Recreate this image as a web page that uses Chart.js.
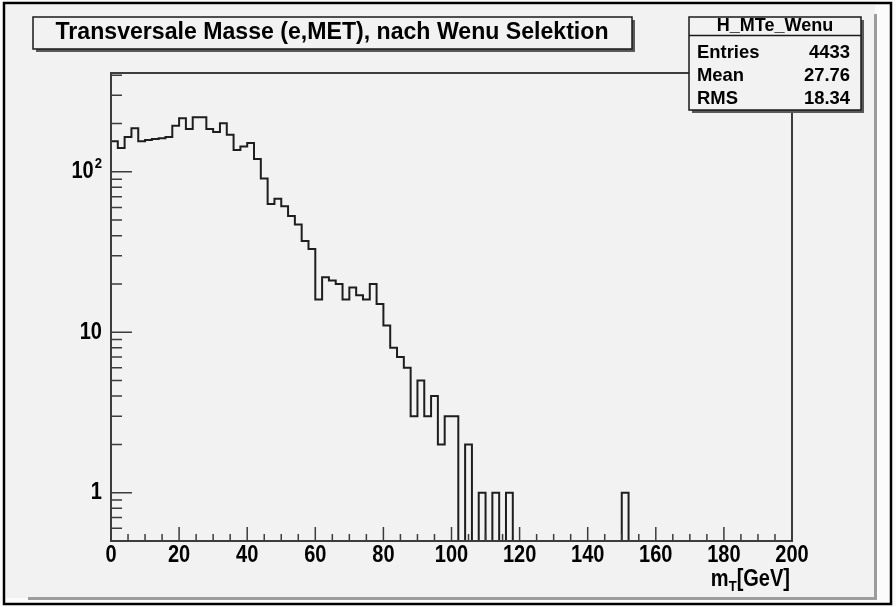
<!DOCTYPE html>
<html>
<head>
<meta charset="utf-8">
<script src="https://cdn.jsdelivr.net/npm/chart.js@4/dist/chart.umd.min.js"></script>
<style>
  html, body { margin: 0; padding: 0; background: #ffffff; }
  #wrap { width: 896px; height: 607px; position: relative; }
  canvas { display: block; }
</style>
</head>
<body>
<div id="wrap"><canvas id="c" width="896" height="607"></canvas></div>
<script>
// Histogram H_MTe_Wenu: transverse mass of electron + missing E_T
const histTitle = 'Transversale Masse (e,MET), nach Wenu Selektion';
const histName = 'H_MTe_Wenu';
const statLabels = ['Entries', 'Mean', 'RMS'];
const statValues = ['4433', '27.76', '18.34'];

const xMin = 0;
const xMax = 200;
const binWidth = 2;

// Bin contents, 100 bins of 2 GeV from 0 to 200
const counts = [
  155, 141, 165, 187, 155, 158, 160, 162, 165, 194,
  216, 185, 219, 219, 185, 177, 201, 170, 137, 144,
  151, 120,  91,  63,  68,  61,  53,  47,  37,  33,
   16,  22,  21,  20,  16,  19,  17,  16,  20,  15,
   11,   8,   7,   6,   3,   5,   3,   4,   2,   3,
    3,   0,   2,   0,   1,   0,   1,   0,   1,   0,
    0,   0,   0,   0,   0,   0,   0,   0,   0,   0,
    0,   0,   0,   0,   0,   1,   0,   0,   0,   0,
    0,   0,   0,   0,   0,   0,   0,   0,   0,   0,
    0,   0,   0,   0,   0,   0,   0,   0,   0,   0
];

const yMin = 0.5;
const yMax = 413;

const xMajorTicks = [0, 20, 40, 60, 80, 100, 120, 140, 160, 180, 200];
const xTickLabels = ['0', '20', '40', '60', '80', '100', '120', '140', '160', '180', '200'];
const xMinorStep = 5;
const yMajorTicks = [1, 10, 100];
const yMinorTicks = [0.6, 0.7, 0.8, 0.9, 2, 3, 4, 5, 6, 7, 8, 9, 20, 30, 40, 50, 60, 70, 80, 90, 200, 300, 400];

// Step outline: one point per bin at its lower edge, closed at the upper edge of the last bin.
// Empty bins sit on the floor of the log axis.
const points = counts.map((v, i) => ({ x: xMin + i * binWidth, y: v > 0 ? v : yMin }));
points.push({ x: xMax, y: counts[counts.length - 1] > 0 ? counts[counts.length - 1] : yMin });

const FONT = '"Liberation Sans", Arial, Helvetica, sans-serif';
const PAD_BG = '#f2f2f2';
const AXIS = '#3c3c3c';

// bold text with optional horizontal squeeze
function label(ctx, s, x, y, size, align, hs) {
  ctx.save();
  ctx.font = 'bold ' + size + 'px ' + FONT;
  ctx.translate(x, y);
  ctx.scale(hs, 1);
  ctx.textAlign = align;
  ctx.fillText(s, 0, 0);
  ctx.restore();
}
function textWidth(ctx, s, size, hs) {
  ctx.save();
  ctx.font = 'bold ' + size + 'px ' + FONT;
  const w = ctx.measureText(s).width * hs;
  ctx.restore();
  return w;
}

function boxWithShadow(ctx, x, y, w, h) {
  ctx.fillStyle = '#5a5a5a';
  ctx.fillRect(x + 3, y + 3, w, h);
  ctx.fillStyle = PAD_BG;
  ctx.fillRect(x, y, w, h);
  ctx.strokeStyle = '#1a1a1a';
  ctx.lineWidth = 1.5;
  ctx.strokeRect(x, y, w, h);
}

const rootStyle = {
  id: 'rootStyle',
  beforeDraw(chart) {
    const ctx = chart.ctx;
    ctx.save();
    ctx.fillStyle = '#fbfbfb';
    ctx.fillRect(0, 0, 896, 607);
    ctx.fillStyle = PAD_BG;
    ctx.fillRect(6, 5, 869, 593);
    // pad bevel shadow
    ctx.fillStyle = '#9c9c9c';
    ctx.fillRect(28, 597, 849, 3);
    ctx.fillRect(874, 14, 3, 586);
    // window frame
    ctx.strokeStyle = '#000000';
    ctx.lineWidth = 2.5;
    ctx.strokeRect(4, 3, 887, 601);
    ctx.restore();
  },
  afterDatasetsDraw(chart) {
    const ctx = chart.ctx;
    const xs = chart.scales.x;
    const ys = chart.scales.y;
    const a = chart.chartArea;
    ctx.save();

    // frame
    ctx.strokeStyle = AXIS;
    ctx.lineWidth = 2;
    ctx.strokeRect(a.left, a.top, a.right - a.left, a.bottom - a.top);

    // x ticks (inside)
    ctx.lineWidth = 1.5;
    ctx.beginPath();
    for (let v = xMin; v <= xMax; v += xMinorStep) {
      const px = xs.getPixelForValue(v);
      const len = xMajorTicks.includes(v) ? 14 : 7;
      ctx.moveTo(px, a.bottom);
      ctx.lineTo(px, a.bottom - len);
    }
    // y ticks (inside)
    yMajorTicks.forEach(v => {
      const py = ys.getPixelForValue(v);
      ctx.moveTo(a.left, py);
      ctx.lineTo(a.left + 21, py);
    });
    yMinorTicks.forEach(v => {
      const py = ys.getPixelForValue(v);
      ctx.moveTo(a.left, py);
      ctx.lineTo(a.left + 11, py);
    });
    ctx.stroke();

    ctx.fillStyle = '#000000';
    ctx.textBaseline = 'middle';
    const TS = 23, HS = 0.87;

    // x tick labels
    xMajorTicks.forEach((v, i) => {
      label(ctx, xTickLabels[i], xs.getPixelForValue(v), a.bottom + 15, TS, 'center', HS);
    });

    // y tick labels
    const yl = a.left - 9;
    label(ctx, '1', yl, ys.getPixelForValue(1), TS, 'right', HS);
    label(ctx, '10', yl, ys.getPixelForValue(10), TS, 'right', HS);
    const supW = textWidth(ctx, '2', 15, HS);
    label(ctx, '2', yl, ys.getPixelForValue(100) - 8, 15, 'right', HS);
    label(ctx, '10', yl - supW - 1, ys.getPixelForValue(100), TS, 'right', HS);

    // x axis title m_T[GeV]
    ctx.textBaseline = 'alphabetic';
    const base = a.bottom + 45;
    const restW = textWidth(ctx, '[GeV]', TS, HS);
    label(ctx, '[GeV]', a.right - 2, base, TS, 'right', HS);
    const subW = textWidth(ctx, 'T', 15, HS);
    label(ctx, 'T', a.right - 2 - restW, base + 5, 15, 'right', HS);
    label(ctx, 'm', a.right - 2 - restW - subW, base, TS, 'right', HS);

    // title box
    boxWithShadow(ctx, 33, 17, 599, 32);
    ctx.fillStyle = '#000000';
    ctx.textBaseline = 'middle';
    const tw = textWidth(ctx, histTitle, 23, 1);
    label(ctx, histTitle, 332, 33, 23, 'center', 553 / tw);

    // statistics box
    const sx = 689, sy = 17, sw = 172, sh = 93;
    boxWithShadow(ctx, sx, sy, sw, sh);
    ctx.strokeStyle = '#1a1a1a';
    ctx.lineWidth = 1.5;
    ctx.beginPath();
    ctx.moveTo(sx, sy + 18.5);
    ctx.lineTo(sx + sw, sy + 18.5);
    ctx.stroke();
    ctx.fillStyle = '#000000';
    label(ctx, histName, sx + sw / 2, sy + 9.5, 18, 'center', 1.0);
    statLabels.forEach((lab, i) => {
      const ty = 53 + i * 22.7;
      label(ctx, lab, sx + 8, ty, 19, 'left', 0.97);
      label(ctx, statValues[i], sx + sw - 11, ty, 19, 'right', 0.97);
    });

    ctx.restore();
  }
};

new Chart(document.getElementById('c'), {
  type: 'line',
  data: {
    datasets: [{
      data: points,
      stepped: 'before',
      borderColor: '#1e1e1e',
      borderWidth: 2,
      pointRadius: 0,
      fill: false,
      tension: 0
    }]
  },
  options: {
    responsive: false,
    animation: false,
    events: [],
    layout: { padding: { left: 111, top: 73, right: 104, bottom: 66 } },
    scales: {
      x: { type: 'linear', min: xMin, max: xMax, display: false },
      y: { type: 'logarithmic', min: yMin, max: yMax, display: false }
    },
    plugins: {
      legend: { display: false },
      tooltip: { enabled: false },
      title: { display: false }
    }
  },
  plugins: [rootStyle]
});
</script>
</body>
</html>
